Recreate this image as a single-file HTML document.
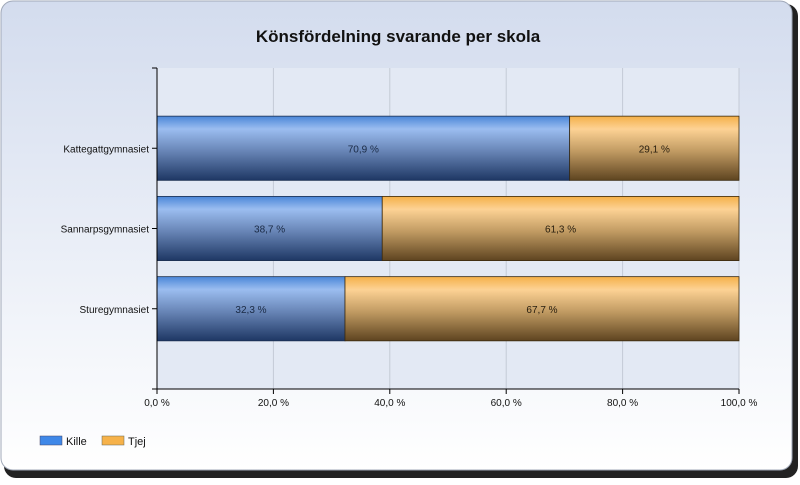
<!DOCTYPE html>
<html><head><meta charset="utf-8"><style>
body{margin:0;background:#fff;width:800px;height:480px;overflow:hidden;font-family:"Liberation Sans",sans-serif}
</style></head><body>
<svg width="800" height="480" xmlns="http://www.w3.org/2000/svg">
<defs>
<linearGradient id="bg" x1="0" y1="0" x2="0" y2="1"><stop offset="0" stop-color="#d3dcee"/><stop offset="1" stop-color="#ffffff"/></linearGradient>
<linearGradient id="gb" x1="0" y1="0" x2="0" y2="1"><stop offset="0" stop-color="#4a86d8"/><stop offset="0.2" stop-color="#9bbdf0"/><stop offset="0.55" stop-color="#6784b5"/><stop offset="1" stop-color="#1e3764"/></linearGradient>
<linearGradient id="go" x1="0" y1="0" x2="0" y2="1"><stop offset="0" stop-color="#f4b048"/><stop offset="0.2" stop-color="#fdd294"/><stop offset="0.55" stop-color="#c09a62"/><stop offset="1" stop-color="#5e4420"/></linearGradient>
</defs>
<rect x="4" y="4" width="794" height="474" rx="12" fill="#222"/>
<rect x="1" y="1" width="791" height="469" rx="12" fill="url(#bg)" stroke="#a0a8b8"/>
<text x="398" y="42" text-anchor="middle" font-size="17" font-weight="bold" fill="#111">Könsfördelning svarande per skola</text>
<rect x="157" y="68" width="582" height="321" fill="#e3e9f4"/>
<g id="grid"></g><g id="bars"></g><g id="axes"></g>
<g>
<rect x="40" y="436" width="22" height="9" fill="#3f88e8" stroke="#446" stroke-width="0.5"/>
<text x="66" y="445" font-size="11" fill="#111">Kille</text>
<rect x="102" y="436" width="22" height="9" fill="#f6b24a" stroke="#665" stroke-width="0.5"/>
<text x="128" y="445" font-size="11" fill="#111">Tjej</text>
</g>
</svg>
<script>
const categories=["Kattegattgymnasiet","Sannarpsgymnasiet","Sturegymnasiet"];
const kille=[70.9,38.7,32.3];
const tjej=[29.1,61.3,67.7];
const ticks=[0,20,40,60,80,100];
const NS="http://www.w3.org/2000/svg";
const x0=157,x1=739,y0=68,y1=389;
const xs=v=>x0+(x1-x0)*v/100;
const band=(y1-y0)/(categories.length+1);
const fmt=v=>v.toFixed(1).replace('.',',')+' %';
function mk(tag,attrs,parent){const e=document.createElementNS(NS,tag);for(const k in attrs)e.setAttribute(k,attrs[k]);document.getElementById(parent).appendChild(e);return e;}
ticks.forEach(t=>{
 const g=mk('line',{x1:xs(t),x2:xs(t),y1:y0,y2:y1,stroke:'#c4cad6'},'grid');
 
 
 const tk=mk('line',{x1:xs(t),x2:xs(t),y1:y1,y2:y1+5,stroke:'#000'},'axes');
 
 
 const tl=mk('text',{x:xs(t),y:y1+17,'text-anchor':'middle','font-size':'10',fill:'#111'},'axes');
 tl.textContent=fmt(t);
 
 
});
categories.forEach((c,i)=>{
 const cy=y0+band*(i+1),h=band*0.8,top=cy-h/2;
 const a=mk('rect',{x:xs(0),y:top,width:xs(kille[i])-xs(0),height:h,fill:'url(#gb)',stroke:'#1d3050','stroke-width':'0.8'},'bars');
 
 
 const b=mk('rect',{x:xs(kille[i]),y:top,width:xs(kille[i]+tjej[i])-xs(kille[i]),height:h,fill:'url(#go)',stroke:'#3a2a10','stroke-width':'0.8'},'bars');
 
 
 const la=mk('text',{x:(xs(0)+xs(kille[i]))/2,y:cy+4,'text-anchor':'middle','font-size':'10',fill:'#1a2a44'},'bars');
 la.textContent=fmt(kille[i]);
 
 
 const lb=mk('text',{x:(xs(kille[i])+xs(kille[i]+tjej[i]))/2,y:cy+4,'text-anchor':'middle','font-size':'10',fill:'#2a2010'},'bars');
 lb.textContent=fmt(tjej[i]);
 
 
 const tk=mk('line',{x1:x0-5,x2:x0,y1:cy,y2:cy,stroke:'#000'},'axes');
 
 
 const cl=mk('text',{x:x0-8,y:cy+4,'text-anchor':'end','font-size':'10',fill:'#111'},'axes');
 cl.textContent=c;
 
 
});
[y0,y1].forEach(y=>{const t=mk('line',{x1:x0-5,x2:x0,y1:y,y2:y,stroke:'#000'},'axes');
 
 });
const ya=mk('line',{x1:x0,x2:x0,y1:y0,y2:y1,stroke:'#000'},'axes');


const xa=mk('line',{x1:x0,x2:x1,y1:y1,y2:y1,stroke:'#000'},'axes');


</script>
</body></html>
